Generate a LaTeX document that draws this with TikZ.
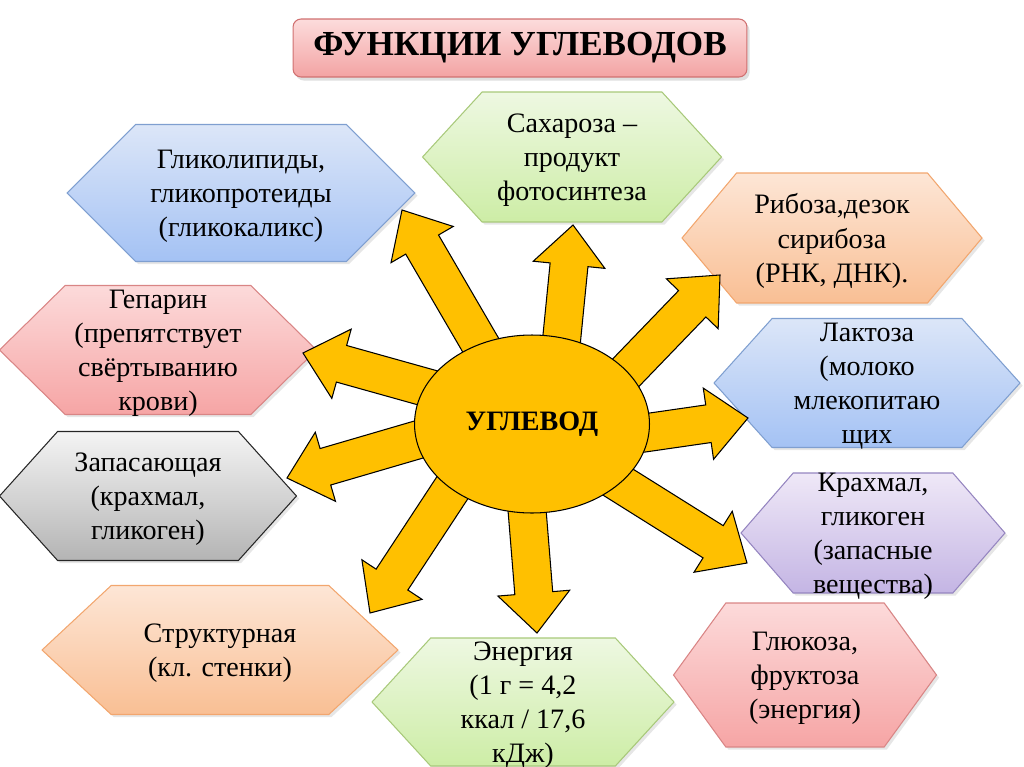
\documentclass[tikz,border=0pt]{standalone}
\usepackage{fontspec}
\setmainfont{Liberation Serif}
\usetikzlibrary{shapes.geometric, shapes.symbols, calc, backgrounds, shadows}
\definecolor{BlueTop}{HTML}{DCE6F8}
\definecolor{BlueBot}{HTML}{A4C2F4}
\definecolor{BlueLine}{HTML}{7F9FD0}
\definecolor{GreenTop}{HTML}{EEF8E2}
\definecolor{GreenBot}{HTML}{CDEDA6}
\definecolor{GreenLine}{HTML}{A8C97A}
\definecolor{OrangeTop}{HTML}{FDE6D6}
\definecolor{OrangeBot}{HTML}{F9BF94}
\definecolor{OrangeLine}{HTML}{F2A66E}
\definecolor{RedTop}{HTML}{FCDADA}
\definecolor{RedBot}{HTML}{F6A5A5}
\definecolor{RedLine}{HTML}{D98585}
\definecolor{GrayTop}{HTML}{F4F4F4}
\definecolor{GrayBot}{HTML}{B4B4B4}
\definecolor{GrayLine}{HTML}{262626}
\definecolor{PurpleTop}{HTML}{EFE8F7}
\definecolor{PurpleBot}{HTML}{C4B5E4}
\definecolor{PurpleLine}{HTML}{9585C0}
\definecolor{TitleTop}{HTML}{FCDCDC}
\definecolor{TitleBot}{HTML}{F3A3A3}
\definecolor{TitleLine}{HTML}{D07070}
\definecolor{SunYellow}{HTML}{FFC000}
\tikzset{
    % hexagon boxes, colour family as argument
    hexa/.style={
        signal,
        signal to=west and east,
        draw=#1Line,
        top color=#1Top,
        bottom color=#1Bot,
        line width=0.6pt,
        inner sep=0pt,
        drop shadow={opacity=0.2, shadow xshift=1.5pt, shadow yshift=-1.5pt}
    },
    txt/.style={
        align=center,
        yshift=-0.06cm,
        font=\fontsize{16}{19.4}\selectfont
    },
    title/.style={
        rectangle,
        rounded corners=0.16cm,
        draw=TitleLine,
        top color=TitleTop,
        bottom color=TitleBot,
        line width=0.6pt,
        minimum width=9.08cm,
        minimum height=1.16cm,
        font=\bfseries\fontsize{20}{24}\selectfont,
        drop shadow={opacity=0.25, shadow xshift=1.5pt, shadow yshift=-2pt}
    },
    sun/.style={
        ellipse,
        draw=black,
        fill=SunYellow,
        line width=0.6pt,
        inner sep=0pt,
        minimum width=4.7cm,
        minimum height=3.56cm,
        font=\bfseries\fontsize{16}{19.4}\selectfont
    },
    % block arrows
    ray/.style={
        draw=black,
        fill=SunYellow,
        line width=0.6pt,
        line join=miter
    }
}

\begin{document}
\begin{tikzpicture}[x=0.02cm, y=-0.02cm]
    \useasboundingbox (0,0) rectangle (1024,767);

    \node[title] (head) at (520,48) {ФУНКЦИИ УГЛЕВОДОВ};
    \node[sun] (carb) at (532,424) {УГЛЕВОД};

    \begin{scope}[on background layer]
    \node[hexa=Blue, minimum width=6.96cm, minimum height=2.74cm, signal pointer angle=90] (glyco) at (241,193) {};
    \node[txt] (glyco-t) at (glyco) {Гликолипиды,\\гликопротеиды\\(гликокаликс)};

    \node[hexa=Green, minimum width=5.98cm, minimum height=2.6cm, signal pointer angle=95] (sucr) at (572,157) {};
    \node[txt] (sucr-t) at (sucr) {Сахароза --\\продукт\\фотосинтеза};

    \node[hexa=Orange, minimum width=6cm, minimum height=2.6cm, signal pointer angle=100] (ribo) at (832,238) {};
    \node[txt] (ribo-t) at (ribo) {Рибоза,дезок\\сирибоза\\(РНК, ДНК).};

    \node[hexa=Blue, minimum width=6.12cm, minimum height=2.58cm, signal pointer angle=96] (lact) at (867,383) {};
    \node[txt] (lact-t) at (lact) {Лактоза\\(молоко\\млекопитаю\\щих};

    \node[hexa=Purple, minimum width=5.28cm, minimum height=2.4cm, signal pointer angle=98] (starch) at (873,533) {};
    \node[txt] (starch-t) at (starch) {Крахмал,\\гликоген\\(запасные\\вещества)};

    \node[hexa=Red, minimum width=5.26cm, minimum height=2.88cm, signal pointer angle=108] (gluc) at (805,675) {};
    \node[txt] (gluc-t) at (gluc) {Глюкоза,\\фруктоза\\(энергия)};

    \node[hexa=Green, minimum width=6.04cm, minimum height=2.56cm, signal pointer angle=95] (energy) at (523,702) {};
    \node[txt] (energy-t) at (energy) {Энергия\\(1 г = 4,2\\ккал / 17,6\\кДж)};

    \node[hexa=Orange, minimum width=7.12cm, minimum height=2.58cm, signal pointer angle=86] (struct) at (220,650) {};
    \node[txt] (struct-t) at (struct) {Структурная\\(кл. стенки)};

    \node[hexa=Gray, minimum width=5.94cm, minimum height=2.58cm, signal pointer angle=96] (store) at (148,496) {};
    \node[txt] (store-t) at (store) {Запасающая\\(крахмал,\\гликоген)};

    \node[hexa=Red, minimum width=6.34cm, minimum height=2.58cm, signal pointer angle=89] (hepar) at (158,350) {};
    \node[txt] (hepar-t) at (hepar) {Гепарин\\(препятствует\\свёртыванию\\крови)};

    % arrow tips
    \coordinate (tGlyco) at (402,210);
    \coordinate (tSucr) at (573,225);
    \coordinate (tRibo) at (720,275);
    \coordinate (tLact) at (748,418);
    \coordinate (tStarch) at (747,563);
    \coordinate (tEnergy) at (537,633);
    \coordinate (tStruct) at (370,613);
    \coordinate (tStore) at (287,478);
    \coordinate (tHepar) at (303,353);

    \foreach \ang/\tip in {123/tGlyco, 71/tSucr, 29/tRibo, 356/tLact, 326/tStarch,
                           267/tEnergy, 219/tStruct, 188/tStore, 161/tHepar}{
        \coordinate (rb) at ($(carb.\ang)!-0.5cm!(\tip)$);
        \coordinate (rh) at ($(\tip)!0.8cm!(carb.\ang)$);
        \draw[ray] ($(rb)!0.38cm!90:(\tip)$) -- ($(rh)!0.38cm!90:(\tip)$)
            -- ($(rh)!0.72cm!90:(\tip)$) -- (\tip) -- ($(rh)!0.72cm!-90:(\tip)$)
            -- ($(rh)!0.38cm!-90:(\tip)$) -- ($(rb)!0.38cm!-90:(\tip)$) -- cycle;
    }
    \end{scope}
\end{tikzpicture}
\end{document}
